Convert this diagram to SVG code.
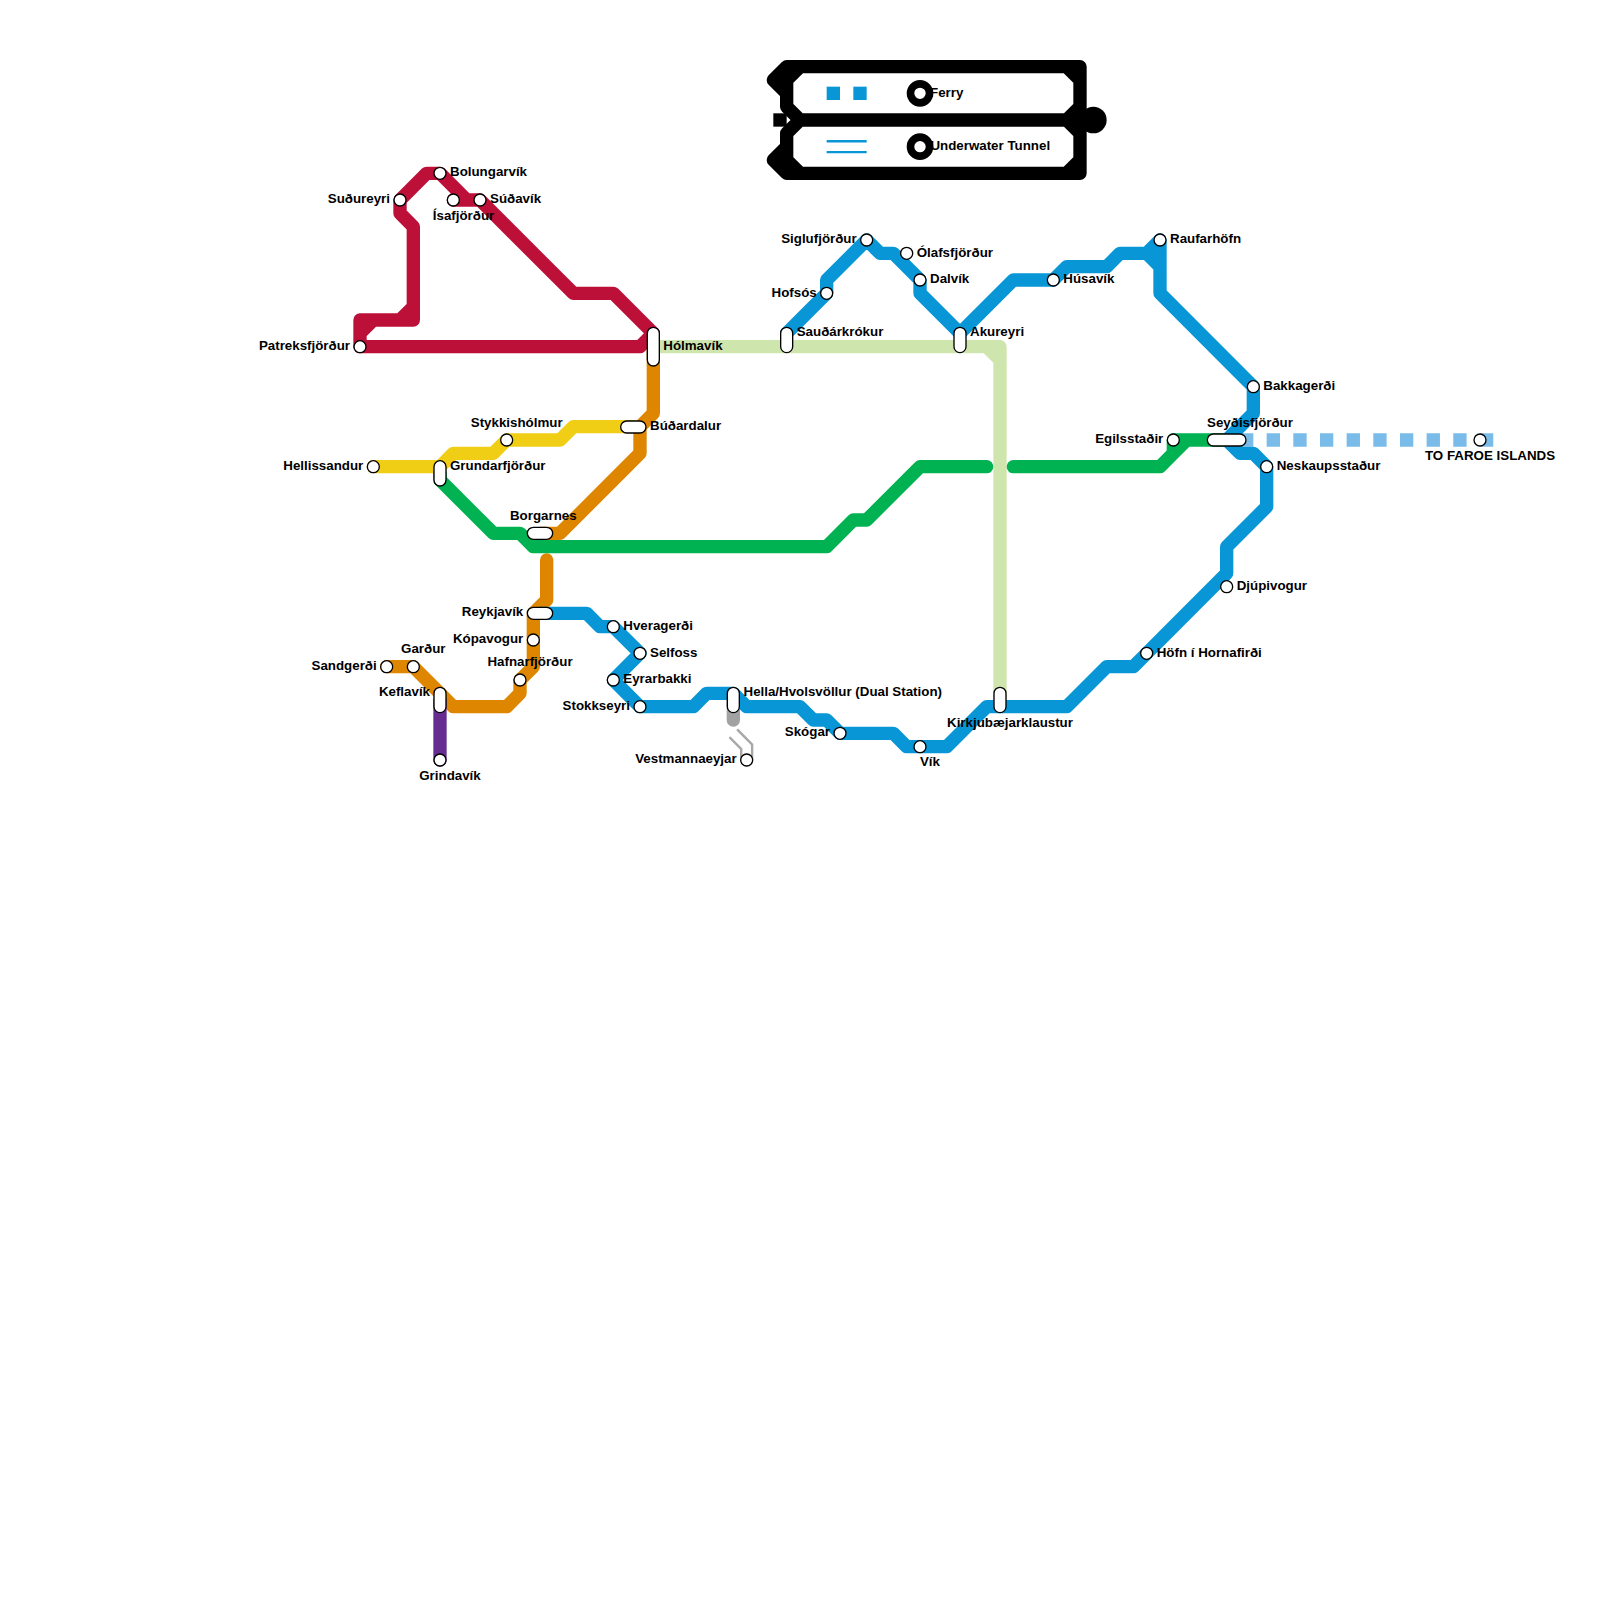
<svg xmlns="http://www.w3.org/2000/svg" width="1600" height="1600" viewBox="0 0 1600 1600">
<style>
text{font-family:"Liberation Sans",Arial,sans-serif;font-weight:bold;font-size:13.33px;fill:#000}
.m{text-anchor:middle}.e{text-anchor:end}
.l{fill:none;stroke-width:13.33;stroke-linejoin:round;stroke-linecap:round}
.st{fill:#fff;stroke:#000;stroke-width:1.33}
.red{stroke:#bd1038}.org{stroke:#df8600}.yel{stroke:#f0ce15}.grn{stroke:#00b251}.pur{stroke:#662c90}.blu{stroke:#0896d7}.lgr{stroke:#cfe5ae}.gry{stroke:#a2a2a2}.blk{stroke:#000}
.ring{fill:#fff;stroke:#000;stroke-width:7.6}
</style>
<rect width="1600" height="1600" fill="#fff"/>
<g id="legend">
<path class="l blk" d="M800 66.67H1080V173.33H786.67L773.33 160L786.67 146.67V133.33L800 120H1080M786.67 66.67H800L786.67 80V106.67L800 120M786.67 66.67L773.33 80L786.67 93.33M786.67 173.33H800L786.67 160M1066.67 66.67L1080 80M1080 106.67L1066.67 120L1080 133.33M1080 160L1066.67 173.33M786.67 133.33V160"/>
<rect x="773.33" y="113.33" width="13.33" height="13.33" fill="#000"/>
<circle cx="1093.33" cy="120" r="13.33" fill="#000"/>
<rect x="826.67" y="86.67" width="13.33" height="13.33" fill="#0896d7"/>
<rect x="853.33" y="86.67" width="13.33" height="13.33" fill="#0896d7"/>
<path d="M826.67 146.67H866.67" fill="none" stroke="#0896d7" stroke-width="13.33"/>
<path d="M826 146.67H867.5" fill="none" stroke="#fff" stroke-width="8.5"/>
<circle class="ring" cx="920" cy="93.33" r="9.5"/>
<circle class="ring" cx="920" cy="146.67" r="9.5"/>
<text x="930" y="97">Ferry</text>
<text x="930.4" y="150">Underwater Tunnel</text>
</g>
<g id="connectors">
<path class="l lgr" d="M653.33 346.67H1000V700M986.67 346.67L1000 360"/>
<path d="M1240 440H1493.33" fill="none" stroke="#7abce9" stroke-width="13.33" stroke-dasharray="13.33 13.33"/>
<path class="l yel" d="M373.33 466.67H440L453.33 453.33H493.33L506.67 440H560L573.33 426.67H633.33"/>
<path class="l org" d="M653.33 346.67V413.33L640 426.67V453.33L560 533.33H540"/>
<path class="l org" d="M546.67 560V600L533.33 613.33V666.67L520 680V693.33L506.67 706.67H453.33L413.33 666.67H386.67"/>
<path class="l pur" d="M440 700V760"/>
<path class="l grn" d="M440 473.33V480L493.33 533.33H520L533.33 546.67H826.67L853.33 520H866.67L920 466.67H986.67"/>
<path class="l grn" d="M1013.33 466.67H1160L1173.33 453.33V440H1226.67M1173.33 453.33L1186.67 440"/>
<path class="l red" d="M360 346.67H640L653.33 333.33L613.33 293.33H573.33L480 200H453.33M480 200L466.67 200L440 173.33H426.67L400 200V213.33L413.33 226.67V320H373.33L360 333.33M413.33 306.67L400 320H360V346.67"/>
<path class="l blu" d="M540 613.33H586.67L600 626.67H613.33L640 653.33L613.33 680L640 706.67H693.33L706.67 693.33H733.33L746.67 706.67H800L813.33 720H826.67L840 733.33H893.33L906.67 746.67H946.67L986.67 706.67H1066.67L1106.67 666.67H1133.33L1226.67 573.33V546.67L1266.67 506.67V466.67L1253.33 453.33H1240L1226.67 440L1253.33 413.33V386.67L1160 293.33V240L1146.67 253.33L1160 266.67M1146.67 253.33H1120L1106.67 266.67H1066.67L1053.33 280H1013.33L960 333.33L920 293.33V280L893.33 253.33H880L866.67 240L826.67 280V293.33L786.67 333.33"/>
<path class="l gry" d="M733.33 700V720"/>
<path d="M733.33 733.33L746.67 746.67V760" fill="none" stroke="#a8a8a8" stroke-width="13.33"/>
<path d="M733 733L746.67 746.67V761" fill="none" stroke="#fff" stroke-width="8.5"/>
</g>
<g id="n-patreksfjordur"><circle class="st" cx="360" cy="346.67" r="6"/><text class="e" x="350" y="350">Patreksfjörður</text></g>
<g id="n-sudureyri"><circle class="st" cx="400" cy="200" r="6"/><text class="e" x="390" y="203.3">Suðureyri</text></g>
<g id="n-bolungarvik"><circle class="st" cx="440" cy="173.33" r="6"/><text x="450" y="176">Bolungarvík</text></g>
<g id="n-isafjordur"><circle class="st" cx="453.33" cy="200" r="6"/><text class="m" x="463.5" y="220">Ísafjörður</text></g>
<g id="n-sudavik"><circle class="st" cx="480" cy="200" r="6"/><text x="490" y="203.3">Súðavík</text></g>
<g id="n-holmavik"><rect class="st" x="647.33" y="327.33" width="12" height="38.67" rx="6"/><text x="663.3" y="350">Hólmavík</text></g>
<g id="n-budardalur"><rect class="st" x="620.67" y="421" width="25.33" height="12" rx="6"/><text x="650" y="430">Búðardalur</text></g>
<g id="n-stykkisholmur"><circle class="st" cx="506.67" cy="440" r="6"/><text class="m" x="516.7" y="426.7">Stykkishólmur</text></g>
<g id="n-hellissandur"><circle class="st" cx="373.33" cy="466.67" r="6"/><text class="e" x="363.3" y="470">Hellissandur</text></g>
<g id="n-grundarfjordur"><rect class="st" x="434" y="460.67" width="12" height="25.33" rx="6"/><text x="450" y="470">Grundarfjörður</text></g>
<g id="n-borgarnes"><rect class="st" x="527.33" y="527.33" width="25.33" height="12" rx="6"/><text class="m" x="543.3" y="520">Borgarnes</text></g>
<g id="n-reykjavik"><rect class="st" x="527.33" y="607.33" width="25.33" height="12" rx="6"/><text class="e" x="523.3" y="616.2">Reykjavík</text></g>
<g id="n-kopavogur"><circle class="st" cx="533.33" cy="640" r="6"/><text class="e" x="523.3" y="643.3">Kópavogur</text></g>
<g id="n-hafnarfjordur"><circle class="st" cx="520" cy="680" r="6"/><text class="m" x="530" y="666">Hafnarfjörður</text></g>
<g id="n-sandgerdi"><circle class="st" cx="386.67" cy="666.67" r="6"/><text class="e" x="376.7" y="670">Sandgerði</text></g>
<g id="n-gardur"><circle class="st" cx="413.33" cy="666.67" r="6"/><text class="m" x="423.3" y="653.3">Garður</text></g>
<g id="n-keflavik"><rect class="st" x="434" y="687.33" width="12" height="25.33" rx="6"/><text class="e" x="430" y="695.5">Keflavík</text></g>
<g id="n-grindavik"><circle class="st" cx="440" cy="760" r="6"/><text class="m" x="450" y="780">Grindavík</text></g>
<g id="n-hveragerdi"><circle class="st" cx="613.33" cy="626.67" r="6"/><text x="623.3" y="630">Hveragerði</text></g>
<g id="n-selfoss"><circle class="st" cx="640" cy="653.33" r="6"/><text x="650" y="656.67">Selfoss</text></g>
<g id="n-eyrarbakki"><circle class="st" cx="613.33" cy="680" r="6"/><text x="623.3" y="683.3">Eyrarbakki</text></g>
<g id="n-stokkseyri"><circle class="st" cx="640" cy="706.67" r="6"/><text class="e" x="630" y="710">Stokkseyri</text></g>
<g id="n-hella"><rect class="st" x="727.33" y="687.33" width="12" height="25.33" rx="6"/><text x="743.5" y="696">Hella/Hvolsvöllur (Dual Station)</text></g>
<g id="n-vestmannaeyjar"><circle class="st" cx="746.67" cy="760" r="6"/><text class="e" x="736.7" y="763.3">Vestmannaeyjar</text></g>
<g id="n-skogar"><circle class="st" cx="840" cy="733.33" r="6"/><text class="e" x="830" y="736">Skógar</text></g>
<g id="n-vik"><circle class="st" cx="920" cy="746.67" r="6"/><text class="m" x="930" y="766">Vík</text></g>
<g id="n-kirkjubaejarklaustur"><rect class="st" x="994" y="687.33" width="12" height="25.33" rx="6"/><text class="m" x="1010" y="726.6">Kirkjubæjarklaustur</text></g>
<g id="n-sauoarkrokur"><rect class="st" x="780.67" y="327.33" width="12" height="25.33" rx="6"/><text x="796.7" y="336">Sauðárkrókur</text></g>
<g id="n-hofsos"><circle class="st" cx="826.67" cy="293.33" r="6"/><text class="e" x="816.7" y="296.5">Hofsós</text></g>
<g id="n-siglufjordur"><circle class="st" cx="866.67" cy="240" r="6"/><text class="e" x="856.7" y="243.3">Siglufjörður</text></g>
<g id="n-olafsfjordur"><circle class="st" cx="906.67" cy="253.33" r="6"/><text x="916.7" y="256.5">Ólafsfjörður</text></g>
<g id="n-dalvik"><circle class="st" cx="920" cy="280" r="6"/><text x="930" y="283">Dalvík</text></g>
<g id="n-akureyri"><rect class="st" x="954" y="327.33" width="12" height="25.33" rx="6"/><text x="970" y="336">Akureyri</text></g>
<g id="n-husavik"><circle class="st" cx="1053.33" cy="280" r="6"/><text x="1063.3" y="283">Húsavík</text></g>
<g id="n-raufarhofn"><circle class="st" cx="1160" cy="240" r="6"/><text x="1170" y="243">Raufarhöfn</text></g>
<g id="n-bakkagerdi"><circle class="st" cx="1253.33" cy="386.67" r="6"/><text x="1263.3" y="389.7">Bakkagerði</text></g>
<g id="n-seydisfjordur"><rect class="st" x="1207.33" y="434" width="38.67" height="12" rx="6"/><text class="m" x="1250" y="426.67">Seyðisfjörður</text></g>
<g id="n-egilsstadir"><circle class="st" cx="1173.33" cy="440" r="6"/><text class="e" x="1163.3" y="443.3">Egilsstaðir</text></g>
<g id="n-neskaupstadur"><circle class="st" cx="1266.67" cy="466.67" r="6"/><text x="1276.7" y="469.7">Neskaupsstaður</text></g>
<g id="n-djupivogur"><circle class="st" cx="1226.67" cy="586.67" r="6"/><text x="1236.7" y="589.7">Djúpivogur</text></g>
<g id="n-hofn"><circle class="st" cx="1146.67" cy="653.33" r="6"/><text x="1156.7" y="656.7">Höfn í Hornafirði</text></g>
<g id="n-faroe"><circle class="st" cx="1480" cy="440" r="6"/><text class="m" x="1490" y="460">TO FAROE ISLANDS</text></g>
</svg>
